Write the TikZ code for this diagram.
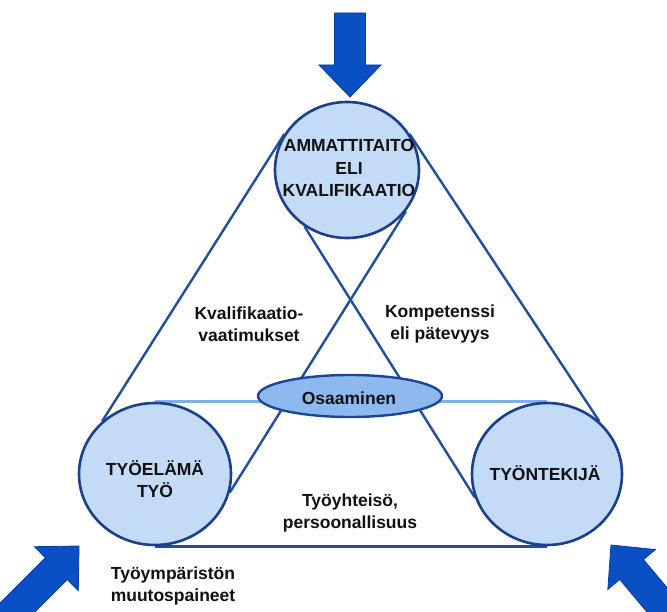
\documentclass[tikz,border=0pt]{standalone}
\usepackage{fontspec}
\setmainfont{Liberation Sans}
\usetikzlibrary{shapes.geometric}
\pgfdeclarelayer{background}
\pgfsetlayers{background,main}
\definecolor{arrowfill}{RGB}{10,80,196}
\definecolor{arrowline}{RGB}{0,62,165}
\definecolor{circfill}{RGB}{196,219,248}
\definecolor{circline}{RGB}{27,63,139}
\definecolor{linedark}{RGB}{31,78,158}
\definecolor{linelight}{RGB}{125,176,236}
\definecolor{ellfill}{RGB}{142,185,238}
\definecolor{ellline}{RGB}{27,69,150}
\definecolor{textc}{RGB}{17,17,17}
\newcommand\myarrow[3]{%
  \begin{scope}[shift={#1},rotate=#2]
    \filldraw[fill=arrowfill,draw=arrowline,line width=0.8pt,line join=miter]
      (0,0) -- (-32,31) -- (-32,15.5) -- (-32-#3,15.5) -- (-32-#3,-15.5)
      -- (-32,-15.5) -- (-32,-31) -- cycle;
  \end{scope}}
\begin{document}
\begin{tikzpicture}[x=1pt,y=1pt,
  circ/.style={ellipse, draw=circline, fill=circfill, line width=2.6pt, inner sep=0pt},
  conn/.style={draw=linedark, line width=2.4pt},
  lightconn/.style={draw=linelight, line width=2.6pt},
  lbl/.style={font=\fontsize{17.5}{22.5}\selectfont\bfseries, align=center, text=textc, inner sep=0pt}]
\useasboundingbox (0,0) rectangle (667,-612);
\clip (0,0) rectangle (667,-612);

\node[circ, minimum width=144pt, minimum height=136pt] (qual) at (347,-170) {};
\node[circ, minimum width=152pt, minimum height=142pt] (work) at (155,-474) {};
\node[circ, minimum width=150pt, minimum height=142pt] (worker) at (547,-474) {};
\node[ellipse, draw=ellline, fill=ellfill, line width=2.4pt, minimum width=184pt, minimum height=42pt, inner sep=0pt] (osa) at (350,-396) {};

\begin{pgfonlayer}{background}
\draw[lightconn] (work.90) -- (worker.90);
\draw[conn] (work.-90) -- (worker.-90);
\draw[conn] (qual.150) -- (work.135);
\draw[conn] (qual.30) -- (worker.45);
\draw[conn] (qual.-127) -- (worker.-162);
\draw[conn] (qual.-35) -- (work.-14);
\end{pgfonlayer}

\myarrow{(350,-97)}{-90}{52}
\myarrow{(79,-546)}{45}{90}
\myarrow{(611,-545)}{130}{90}

\node[lbl] (tqual) at (349,-168) {AMMATTITAITO\\ELI\\KVALIFIKAATIO};
\node[lbl] (twork) at (155,-479) {TYÖELÄMÄ\\TYÖ};
\node[lbl] (tworker) at (545,-473) {TYÖNTEKIJÄ};
\node[lbl] (tosa) at (349,-398) {Osaaminen};
\node[lbl] (tvaat) at (249,-324) {Kvalifikaatio-\\vaatimukset};
\node[lbl] (tkomp) at (440,-324) {Kompetenssi\\eli pätevyys};
\node[lbl] (tyhteis) at (350,-513) {Työyhteisö,\\persoonallisuus};
\node[lbl] (tmuutos) at (173,-586) {Työympäristön\\muutospaineet};
\end{tikzpicture}
\end{document}
